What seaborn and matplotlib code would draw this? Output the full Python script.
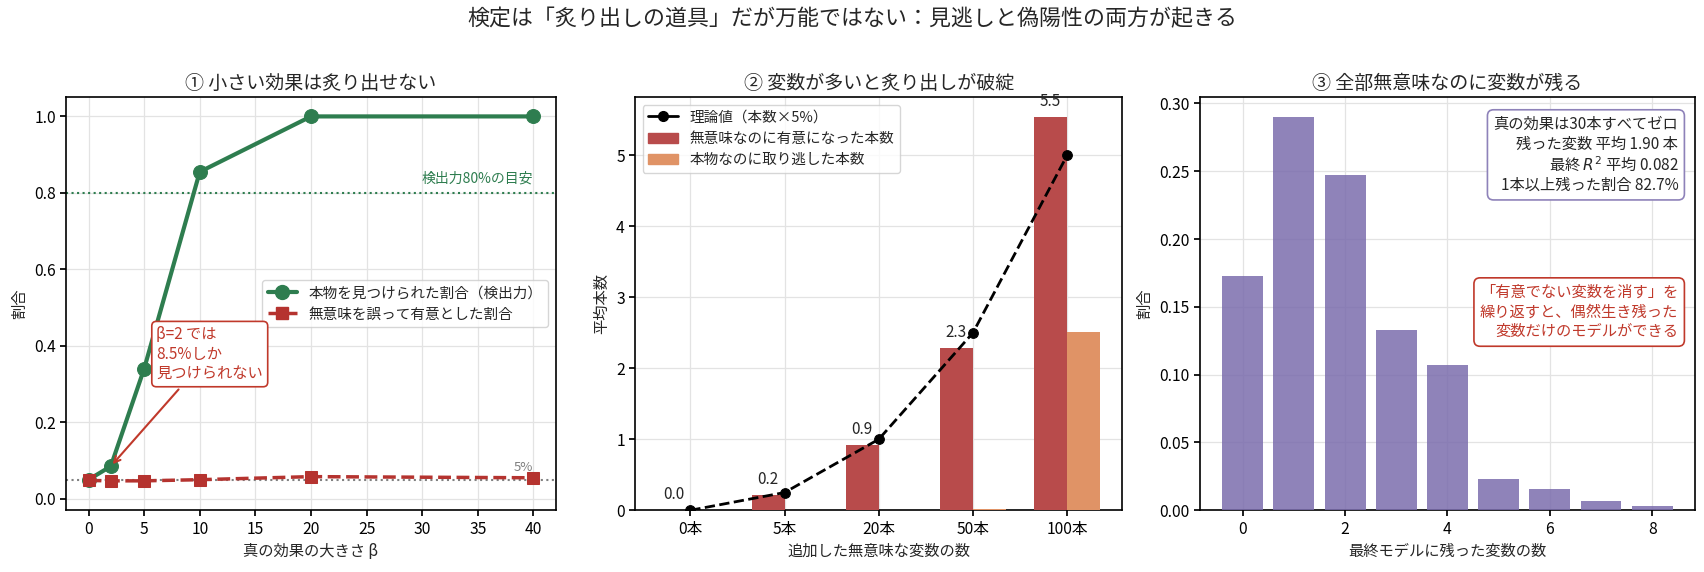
import numpy as np
import pandas as pd
import matplotlib
matplotlib.use("Agg")
import matplotlib.pyplot as plt
from matplotlib.lines import Line2D
from matplotlib.patches import Patch
import seaborn as sns

# ---------------- data ----------------
beta = [0, 2, 5, 10, 20, 40]
power = [0.05, 0.085, 0.34, 0.855, 1.0, 1.0]
false_pos = [0.048, 0.047, 0.047, 0.050, 0.058, 0.055]

n_noise_labels = ["0本", "5本", "20本", "50本", "100本"]
noise_sig = [0.0, 0.21, 0.92, 2.29, 5.54]
true_missed = [0.0, 0.0, 0.0, 0.02, 2.51]
theory = [0.0, 0.25, 1.0, 2.5, 5.0]

remain_counts = [0, 1, 2, 3, 4, 5, 6, 7, 8]
remain_props = [0.173, 0.290, 0.247, 0.133, 0.107, 0.023, 0.016, 0.007, 0.003]
mean_remain = 1.90
mean_r2 = 0.082
frac_any = 82.7

# ---------------- style ----------------
sns.set_theme(style="ticks")
plt.rcParams.update({
    "font.family": ["Noto Sans CJK JP", "DejaVu Sans"],
    "axes.grid": True,
    "grid.color": "#e3e3e3",
    "grid.linewidth": 0.9,
    "axes.edgecolor": "black",
    "axes.linewidth": 1.2,
    "xtick.color": "black",
    "ytick.color": "black",
    "xtick.major.size": 4,
    "ytick.major.size": 4,
    "xtick.labelsize": 11.3,
    "ytick.labelsize": 11.3,
    "axes.labelsize": 11,
    "axes.titlesize": 13.7,
    "axes.unicode_minus": False,
    "mathtext.fontset": "dejavusans",
})

GREEN = "#2e7d4f"
RED = "#b5332f"
ANN_RED = "#c0392b"
BAR_RED = "#b84b4b"
BAR_ORANGE = "#e09366"
PURPLE = "#7b6dad"

fig = plt.figure(figsize=(17.04, 5.72), dpi=100)
ax1 = fig.add_axes([0.0389, 0.1079, 0.2872, 0.7220])
ax2 = fig.add_axes([0.3728, 0.1079, 0.2858, 0.7220])
ax3 = fig.add_axes([0.7041, 0.1079, 0.2907, 0.7220])

# ---------------- panel 1 ----------------
df1 = pd.DataFrame({"beta": beta, "power": power, "fp": false_pos})
sns.lineplot(data=df1, x="beta", y="power", ax=ax1, color=GREEN, lw=3,
             marker="o", markersize=10, markeredgecolor=GREEN, zorder=4)
sns.lineplot(data=df1, x="beta", y="fp", ax=ax1, color=RED, lw=2.5,
             linestyle="--", marker="s", markersize=9, markeredgecolor=RED, zorder=4)
ax1.axhline(0.8, color=GREEN, ls=":", lw=1.5, zorder=2)
ax1.axhline(0.05, color="gray", ls=":", lw=1.5, zorder=2)
ax1.text(40, 0.82, "検出力80%の目安", color=GREEN, fontsize=10, ha="right", va="bottom")
ax1.text(40, 0.065, "5%", color="gray", fontsize=9.5, ha="right", va="bottom")
ax1.annotate("β=2 では\n8.5%しか\n見つけられない", xy=(beta[1], power[1]), xytext=(6.1, 0.305),
             color=ANN_RED, fontsize=11, ha="left", va="bottom",
             bbox=dict(boxstyle="round,pad=0.3", fc="white", ec=ANN_RED, lw=1.2),
             arrowprops=dict(arrowstyle="->", color=ANN_RED, lw=1.5), zorder=6)
ax1.set_ylim(-0.03, 1.05)
ax1.set_xlabel("真の効果の大きさ β")
ax1.set_ylabel("割合")
ax1.set_title("① 小さい効果は炙り出せない")
h1 = [Line2D([], [], color=GREEN, lw=3, marker="o", markersize=10),
      Line2D([], [], color=RED, lw=2.5, ls="--", marker="s", markersize=9)]
ax1.legend(h1, ["本物を見つけられた割合（検出力）", "無意味を誤って有意とした割合"],
           loc="center right", fontsize=10.5)

# ---------------- panel 2 ----------------
df2 = pd.DataFrame({
    "cat": n_noise_labels * 2,
    "val": noise_sig + true_missed,
    "kind": ["sig"] * len(n_noise_labels) + ["miss"] * len(n_noise_labels),
})
sns.barplot(data=df2, x="cat", y="val", hue="kind", ax=ax2, width=0.7,
            palette={"sig": BAR_RED, "miss": BAR_ORANGE}, saturation=1,
            legend=False, errorbar=None, linewidth=0, edgecolor="none", zorder=3)
xpos = np.arange(len(n_noise_labels))
sns.lineplot(x=xpos, y=theory, ax=ax2, color="black", lw=2, linestyle="--",
             marker="o", markersize=7, markeredgecolor="black", zorder=5)
for i, v in enumerate(noise_sig):
    ax2.text(i - 0.175, v + 0.1, f"{v:.1f}", ha="center", va="bottom", fontsize=11)
ax2.set_xlim(-0.585, 4.585)
ax2.set_ylim(0, max(noise_sig) * 1.05)
ax2.xaxis.grid(True)
ax2.yaxis.grid(True)
ax2.set_axisbelow(True)
ax2.set_xlabel("追加した無意味な変数の数")
ax2.set_ylabel("平均本数")
ax2.set_title("② 変数が多いと炙り出しが破綻")
h2 = [Line2D([], [], color="black", lw=2, ls="-", marker="o", markersize=7),
      Patch(color=BAR_RED), Patch(color=BAR_ORANGE)]
ax2.legend(h2, ["理論値（本数×5%）", "無意味なのに有意になった本数", "本物なのに取り逃した本数"],
           loc="upper left", fontsize=10.5)

# ---------------- panel 3 ----------------
df3 = pd.DataFrame({"n": remain_counts, "p": remain_props})
sns.barplot(data=df3, x="n", y="p", ax=ax3, native_scale=True, color=PURPLE,
            saturation=1, alpha=0.85, errorbar=None, linewidth=0, edgecolor="none", zorder=3)
ax3.grid(True)
ax3.set_axisbelow(True)
ax3.set_xticks([0, 2, 4, 6, 8])
ax3.set_xlabel("最終モデルに残った変数の数")
ax3.set_ylabel("割合")
ax3.set_title("③ 全部無意味なのに変数が残る")
info = (f"真の効果は30本すべてゼロ\n残った変数 平均 {mean_remain:.2f} 本\n"
        f"最終 $R^2$ 平均 {mean_r2:.3f}\n1本以上残った割合 {frac_any:.1f}%")
ax3.text(0.966, 0.955, info, transform=ax3.transAxes, ha="right", va="top",
         multialignment="right", fontsize=11,
         bbox=dict(boxstyle="round,pad=0.4", fc="white", ec="#8e82b9", lw=1.2), zorder=6)
ax3.text(0.966, 0.48, "「有意でない変数を消す」を\n繰り返すと、偶然生き残った\n変数だけのモデルができる",
         transform=ax3.transAxes, ha="right", va="center", multialignment="right",
         fontsize=11, color=ANN_RED,
         bbox=dict(boxstyle="round,pad=0.4", fc="white", ec=ANN_RED, lw=1.2), zorder=6)

fig.suptitle("検定は「炙り出しの道具」だが万能ではない：見逃しと偽陽性の両方が起きる",
             fontsize=15.8, y=0.967, va="center")

fig.savefig("out.png", dpi=100)
